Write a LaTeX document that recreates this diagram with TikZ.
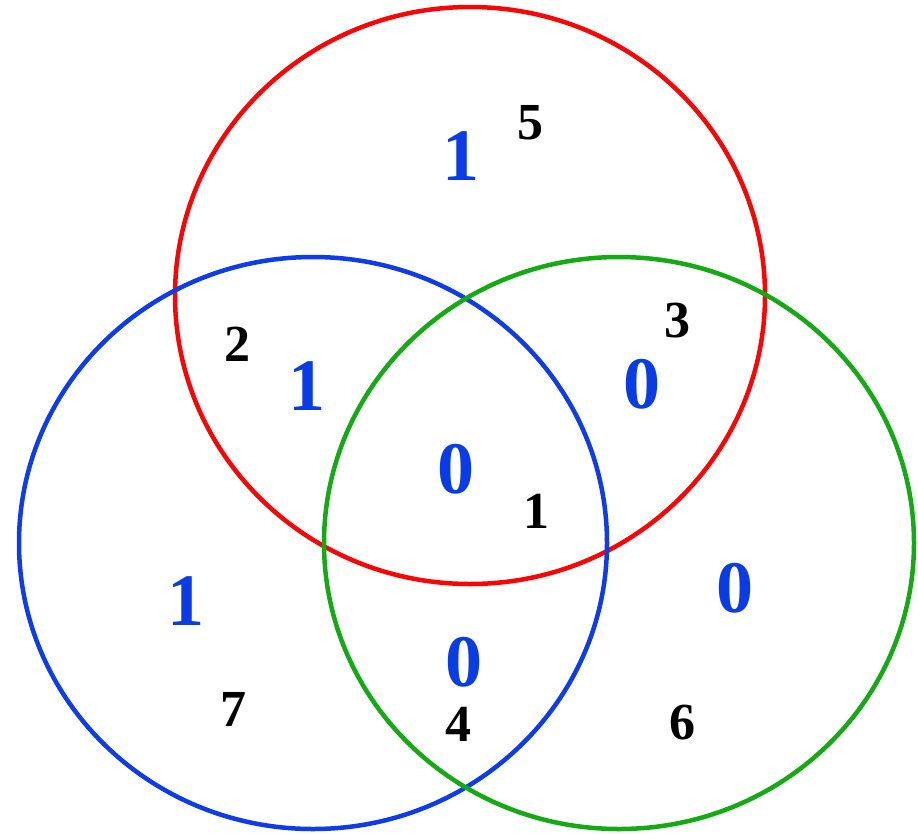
\documentclass[tikz,border=0pt]{standalone}
\usepackage{fontspec}
\setmainfont{Liberation Serif}
\definecolor{cred}{RGB}{250,5,5}
\definecolor{cblue}{RGB}{15,60,235}
\definecolor{cgreen}{RGB}{20,170,20}
\definecolor{tblue}{RGB}{10,60,230}
\begin{document}
\begin{tikzpicture}[x=1pt,y=-1pt,
  ring/.style={line width=4.5pt},
  big/.style={text=tblue,font=\fontsize{74}{74}\selectfont\bfseries,inner sep=0pt},
  small/.style={text=black,font=\fontsize{52}{52}\selectfont\bfseries,inner sep=0pt}]
\useasboundingbox (0,0) rectangle (918,833);
\draw[ring,cred] (470,295.5) ellipse [x radius=295, y radius=288.5];
\draw[ring,cblue] (313,543) ellipse [x radius=294, y radius=286];
\draw[ring,cgreen] (619,543) ellipse [x radius=295, y radius=286];
\node[big] (b1) at (461,156) {1};
\node[small] (n5) at (530,123) {5};
\node[small] (n2) at (237,344) {2};
\node[big] (b2) at (307,386) {1};
\node[small] (n3) at (677,321) {3};
\node[big] (b3) at (642,384) {0};
\node[big] (b4) at (456,469) {0};
\node[small] (n1) at (536,511) {1};
\node[big] (b5) at (186,601) {1};
\node[small] (n7) at (233,709) {7};
\node[big] (b6) at (464,662) {0};
\node[small] (n4) at (458,724) {4};
\node[big] (b7) at (735,588) {0};
\node[small] (n6) at (682,723) {6};
\end{tikzpicture}
\end{document}
